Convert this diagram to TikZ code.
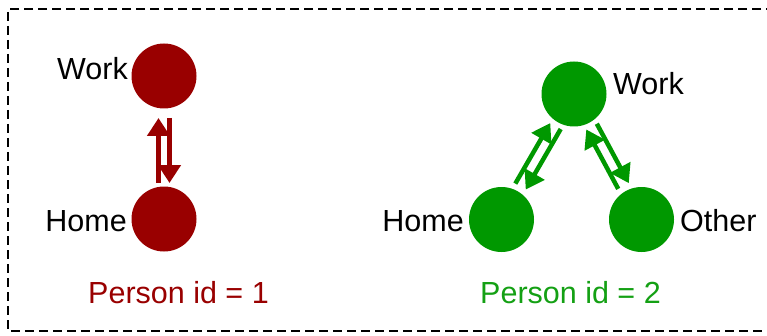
\documentclass[tikz,border=0pt]{standalone}
\usepackage{fontspec}
\setmainfont{Liberation Sans}
\usetikzlibrary{arrows.meta,calc}
\definecolor{dred}{RGB}{153,0,0}
\definecolor{dgreen}{RGB}{0,152,0}
\definecolor{tgreen}{RGB}{20,160,20}
\tikzset{
  x=1pt,y=1pt,
  dot/.style={circle,fill=#1,minimum size=65pt,inner sep=0pt},
  lbl/.style={inner sep=0pt,font=\fontsize{30.5}{36}\selectfont},
  arr/.style={draw=#1,line width=4.5pt,-{Triangle[width=22pt,length=18pt,fill=#1]}},
  frame/.style={draw=black,line width=1.8pt,dash pattern=on 9pt off 5pt}
}
\begin{document}
\begin{tikzpicture}
\useasboundingbox (0,0) rectangle (767,335);
\draw[frame] (775,326) -- (8,326) -- (8,4) -- (775,4);
% person 1
\node[dot=dred] (rw) at (164,259) {};
\node[dot=dred] (rh) at (164,116) {};
\node[lbl,anchor=base east] (rwl) at (128,255) {Work};
\node[lbl,anchor=base east] (rhl) at (127,104) {Home};
\draw[arr=dred] ($(rh)!36pt!(rw)!5.5pt!90:(rw)$) -- ($(rw)!42pt!(rh)!5.5pt!-90:(rh)$);
\draw[arr=dred] ($(rw)!42pt!(rh)!5.5pt!90:(rh)$) -- ($(rh)!36pt!(rw)!5.5pt!-90:(rw)$);
\node[lbl,anchor=base west,text=dred] (p1) at (88,32) {Person id = 1};
% person 2
\node[dot=dgreen] (gw) at (574,241) {};
\node[dot=dgreen] (gh) at (501.5,115.5) {};
\node[dot=dgreen] (go) at (641.5,115.5) {};
\node[lbl,anchor=base west] (gwl) at (613,240) {Work};
\node[lbl,anchor=base east] (ghl) at (464,104) {Home};
\node[lbl,anchor=base west] (gol) at (680,104) {Other};
\draw[arr=dgreen] ($(gh)!38pt!(gw)!6pt!90:(gw)$) -- ($(gw)!37pt!(gh)!6pt!-90:(gh)$);
\draw[arr=dgreen] ($(gw)!37pt!(gh)!6pt!90:(gh)$) -- ($(gh)!38pt!(gw)!6pt!-90:(gw)$);
\draw[arr=dgreen] ($(go)!38pt!(gw)!6pt!90:(gw)$) -- ($(gw)!37pt!(go)!6pt!-90:(go)$);
\draw[arr=dgreen] ($(gw)!37pt!(go)!6pt!90:(go)$) -- ($(go)!38pt!(gw)!6pt!-90:(gw)$);
\node[lbl,anchor=base west,text=tgreen] (p2) at (480,32) {Person id = 2};
\end{tikzpicture}
\end{document}
